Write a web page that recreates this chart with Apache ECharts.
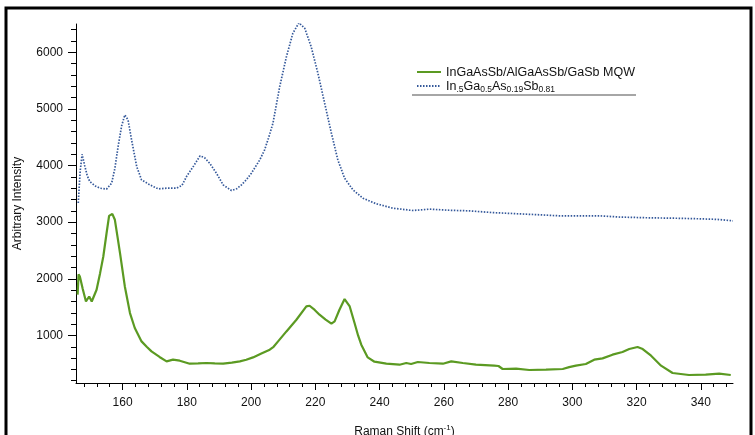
<!DOCTYPE html>
<html>
<head>
<meta charset="utf-8">
<script src="https://cdn.jsdelivr.net/npm/echarts@6/dist/echarts.min.js"></script>
<style>html,body{margin:0;padding:0;background:#fff;}#c{width:755px;height:435px;}</style>
</head>
<body>
<div id="c"></div>
<script>
// ---- data ----
const blueX = [146.2,146.8,147.4,148.2,149.0,149.8,151.5,153.0,155.0,156.6,157.6,158.6,159.7,160.7,161.7,162.8,164.4,165.9,168.5,171.1,173.7,176.8,178.5,179.9,182.0,184.1,185.5,187.1,189.2,191.3,193.9,195.5,197.0,198.5,200.1,202.7,204.2,205.5,206.8,208.9,211.0,213.0,214.9,216.7,218.7,220.8,222.9,225.0,227.0,229.1,231.7,234.8,239.0,244.1,250.3,255.5,262,268,275,283.5,290,296,308.4,315,324,332,339.5,345,350];
const blueY = [3340,3900,4200,4000,3820,3717,3640,3600,3583,3689,3950,4335,4700,4894,4806,4453,3982,3747,3659,3588,3600,3600,3650,3806,3982,4171,4140,4042,3866,3659,3559,3590,3659,3747,3866,4100,4277,4500,4747,5393,5923,6336,6523,6424,6099,5630,5100,4571,4100,3777,3571,3424,3324,3248,3206,3230,3210,3200,3170,3147,3130,3112,3112,3090,3077,3070,3060,3050,3024];
const greenX = [146.0,146.3,146.7,147.6,148.6,149.6,150.4,151.9,153.0,154.0,155.0,155.8,156.8,157.6,158.4,159.2,160.7,162.3,163.8,165.9,167.5,169.0,171.5,173.7,175.7,177.8,180.9,183.5,186.1,188.7,191.3,194.0,196.5,198.5,200.6,203.2,205.8,207.0,208.4,211.0,214.1,217.2,218.2,219.8,221.3,223.2,225.0,226.0,227.5,229.1,230.7,232.2,233.3,234.3,236.3,238.4,242.1,246.2,248.3,249.8,251.9,255.5,259.7,262.3,265.9,270.0,275.7,277.0,278.3,282.5,286.6,291.8,297.0,299.0,301.1,304.2,306.8,309.4,312.5,315.6,317.7,320.3,321.9,324.5,327.6,331.2,336.3,341.5,345.7,349.3];
const greenY = [1720,2080,2041,1820,1600,1688,1600,1807,2100,2394,2800,3112,3147,3042,2750,2454,1865,1395,1131,895,800,718,620,542,572,554,501,505,513,505,501,520,542,570,612,680,748,800,895,1071,1277,1512,1524,1450,1366,1280,1207,1247,1454,1643,1512,1219,1000,836,612,536,501,483,513,495,531,513,501,542,513,483,466,460,407,413,390,395,407,440,466,495,572,595,660,707,760,795,760,642,466,337,301,307,325,301];
const xTicks = [160,180,200,220,240,260,280,300,320,340];
const yTicks = [1000,2000,3000,4000,5000,6000];
const seriesNames = ['InGaAsSb/AlGaAsSb/GaSb MQW', 'In.5Ga0.5As0.19Sb0.81'];

// minor tick positions
const xMinor = [];
for (let v = 148; v <= 350; v += 4) { if (v % 20 !== 0) xMinor.push(v); }
const yMinor = [];
for (let v = 200; v <= 6400; v += 200) { if (v % 1000 !== 0) yMinor.push(v); }

const X_MIN = 145.5, X_MAX = 350, Y_MIN = 160, Y_MAX = 6500;
const FONT = 'Liberation Sans, Arial, sans-serif';
const GREEN = '#5b9a22', BLUE = '#34589a';

const chart = echarts.init(document.getElementById('c'), null, {renderer: 'canvas'});
const axisCommon = {type: 'value', splitLine: {show: false}};
chart.setOption({
  animation: false,
  backgroundColor: '#fff',
  grid: {left: 76, right: 22, top: 24, bottom: 52, containLabel: false, outerBoundsMode: 'none'},
  legend: {
    orient: 'vertical', left: 411, top: 61, itemGap: 1,
    itemWidth: 24, itemHeight: 2,
    itemStyle: {opacity: 0},
    data: seriesNames,
    formatter: function (name) {
      if (name === seriesNames[1]) {
        return '{n|In}{s|.5}{n|Ga}{s|0.5}{n|As}{s|0.19}{n|Sb}{s|0.81}';
      }
      return '{n|' + name + '}';
    },
    textStyle: {
      fontFamily: FONT, color: '#111',
      rich: {
        n: {fontFamily: FONT, fontSize: 12.5, color: '#111', lineHeight: 14, verticalAlign: 'bottom'},
        s: {fontFamily: FONT, fontSize: 8.5, color: '#111', lineHeight: 14, verticalAlign: 'bottom', padding: [0,0,-1,0]}
      }
    }
  },
  xAxis: [
    Object.assign({}, axisCommon, {
      min: X_MIN, max: X_MAX,
      name: 'Raman Shift (cm{sup|-1})', nameLocation: 'middle', nameGap: 41,
      nameMoveOverlap: false,
      nameTextStyle: {fontFamily: FONT, fontSize: 12, color: '#111', rich: {sup: {fontSize: 8, verticalAlign: 'top', padding: [0,0,8,0]}}},
      axisLine: {show: true, onZero: false, lineStyle: {color: '#000', width: 1}},
      axisTick: {show: true, inside: false, length: 7, customValues: xTicks, lineStyle: {color: '#000'}},
      axisLabel: {customValues: xTicks, fontFamily: FONT, fontSize: 12, color: '#111', margin: 14}
    }),
    Object.assign({}, axisCommon, {
      min: X_MIN, max: X_MAX, position: 'bottom',
      axisLine: {show: false},
      axisTick: {show: true, length: 4, customValues: xMinor, lineStyle: {color: '#000'}},
      axisLabel: {show: false}
    })
  ],
  yAxis: [
    Object.assign({}, axisCommon, {
      min: Y_MIN, max: Y_MAX,
      name: 'Arbitrary Intensity', nameLocation: 'middle', nameGap: 52,
      nameTextStyle: {fontFamily: FONT, fontSize: 12, color: '#111'},
      axisLine: {show: true, onZero: false, lineStyle: {color: '#000', width: 1}},
      axisTick: {show: true, inside: false, length: 8, customValues: yTicks, lineStyle: {color: '#000'}},
      axisLabel: {customValues: yTicks, formatter: function (v) { return String(v); }, fontFamily: FONT, fontSize: 12, color: '#111', margin: 13}
    }),
    Object.assign({}, axisCommon, {
      min: Y_MIN, max: Y_MAX, position: 'left',
      axisLine: {show: false},
      axisTick: {show: true, length: 5, customValues: yMinor, lineStyle: {color: '#000'}},
      axisLabel: {show: false}
    })
  ],
  series: [
    {
      name: seriesNames[0], type: 'line', showSymbol: false, symbol: 'none',
      data: greenX.map((x, i) => [x, greenY[i]]),
      lineStyle: {color: GREEN, width: 2.2}, itemStyle: {color: GREEN}, z: 3
    },
    {
      name: seriesNames[1], type: 'line', showSymbol: false, symbol: 'none',
      data: blueX.map((x, i) => [x, blueY[i]]),
      lineStyle: {color: BLUE, width: 1.7, type: [1.5, 1.5]}, itemStyle: {color: BLUE}, z: 2
    }
  ],
  graphic: [
    {type: 'line', shape: {x1: 412, y1: 95, x2: 636, y2: 95}, style: {stroke: '#888', lineWidth: 1.5}, silent: true},
    {type: 'rect', shape: {x: 6, y: 8, width: 745, height: 440}, style: {fill: 'none', stroke: '#000', lineWidth: 3}, silent: true}
  ]
});
</script>
</body>
</html>
